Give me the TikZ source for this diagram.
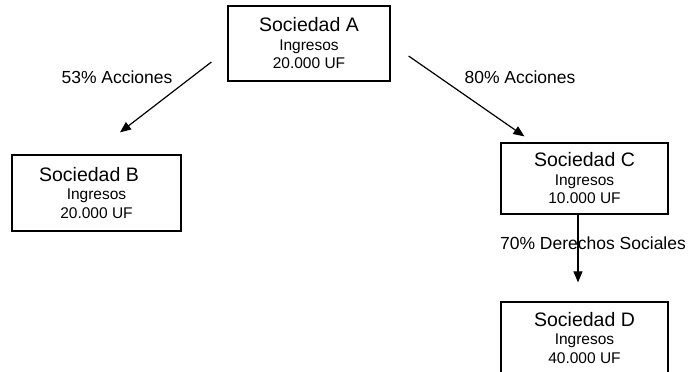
\documentclass[tikz,border=0pt]{standalone}
\usepackage{fontspec}
\setmainfont{Liberation Sans}
\usetikzlibrary{calc, arrows.meta}

\begin{document}
\begin{tikzpicture}[
    x=1pt, y=1pt, % one unit = one pixel of the layout
    >={Triangle[length=11pt, width=9pt]}, % filled triangle tips
    company/.style={draw, line width=1.2pt, rectangle, align=center, inner sep=0pt,
      font=\fontsize{15.5}{18.5}\selectfont}, % Style for the company boxes
    share/.style={->, line width=1.2pt}, % Style for the ownership arrows
    sharelabel/.style={font=\fontsize{17.5}{20}\selectfont} % Style for the arrow labels
  ]
  \useasboundingbox (0,0) rectangle (689,372);

  % --- Companies ---
  \node[company, minimum width=162, minimum height=75] (socA) at (309,328.5)
    {{\fontsize{19.5}{21}\selectfont Sociedad A}\\ Ingresos\\ 20.000 UF};
  \node[company, minimum width=169, minimum height=76] (socB) at (96.5,179)
    {{\fontsize{19.5}{21}\selectfont Sociedad B\kern15pt}\\ Ingresos\\ 20.000 UF};
  \node[company, minimum width=167, minimum height=71] (socC) at (584.5,193.5)
    {{\fontsize{19.5}{21}\selectfont Sociedad C}\\ Ingresos\\ 10.000 UF};
  \node[company, minimum width=167, minimum height=72] (socD) at (584.5,34)
    {{\fontsize{19.5}{21}\selectfont Sociedad D}\\ Ingresos\\ 40.000 UF};

  % --- Arrow ends (free ends near the boxes) ---
  \coordinate (AB_start) at ($(socA.west)+(-16,-18.5)$);
  \coordinate (AB_end) at ($(socB.north)+(23.5,22)$);
  \coordinate (AC_start) at ($(socA.east)+(18,-12.5)$);
  \coordinate (AC_end) at ($(socC.north west)+(24,6)$);
  \coordinate (CD_start) at ($(socC.south)+(-6.5,0)$);
  \coordinate (CD_end) at ($(socD.north)+(-6.5,19)$);

  % --- Ownership arrows ---
  \draw[share] (AB_start) -- (AB_end);
  \draw[share] (AC_start) -- (AC_end);
  \draw[share] (CD_start) -- (CD_end);

  % --- Labels ---
  \node[sharelabel] (labAB) at (117,295) {53\% Acciones};
  \node[sharelabel] (labAC) at (520,295) {80\% Acciones};
  \node[sharelabel] (labCD) at (593,129) {70\% Derechos Sociales};

\end{tikzpicture}
\end{document}
